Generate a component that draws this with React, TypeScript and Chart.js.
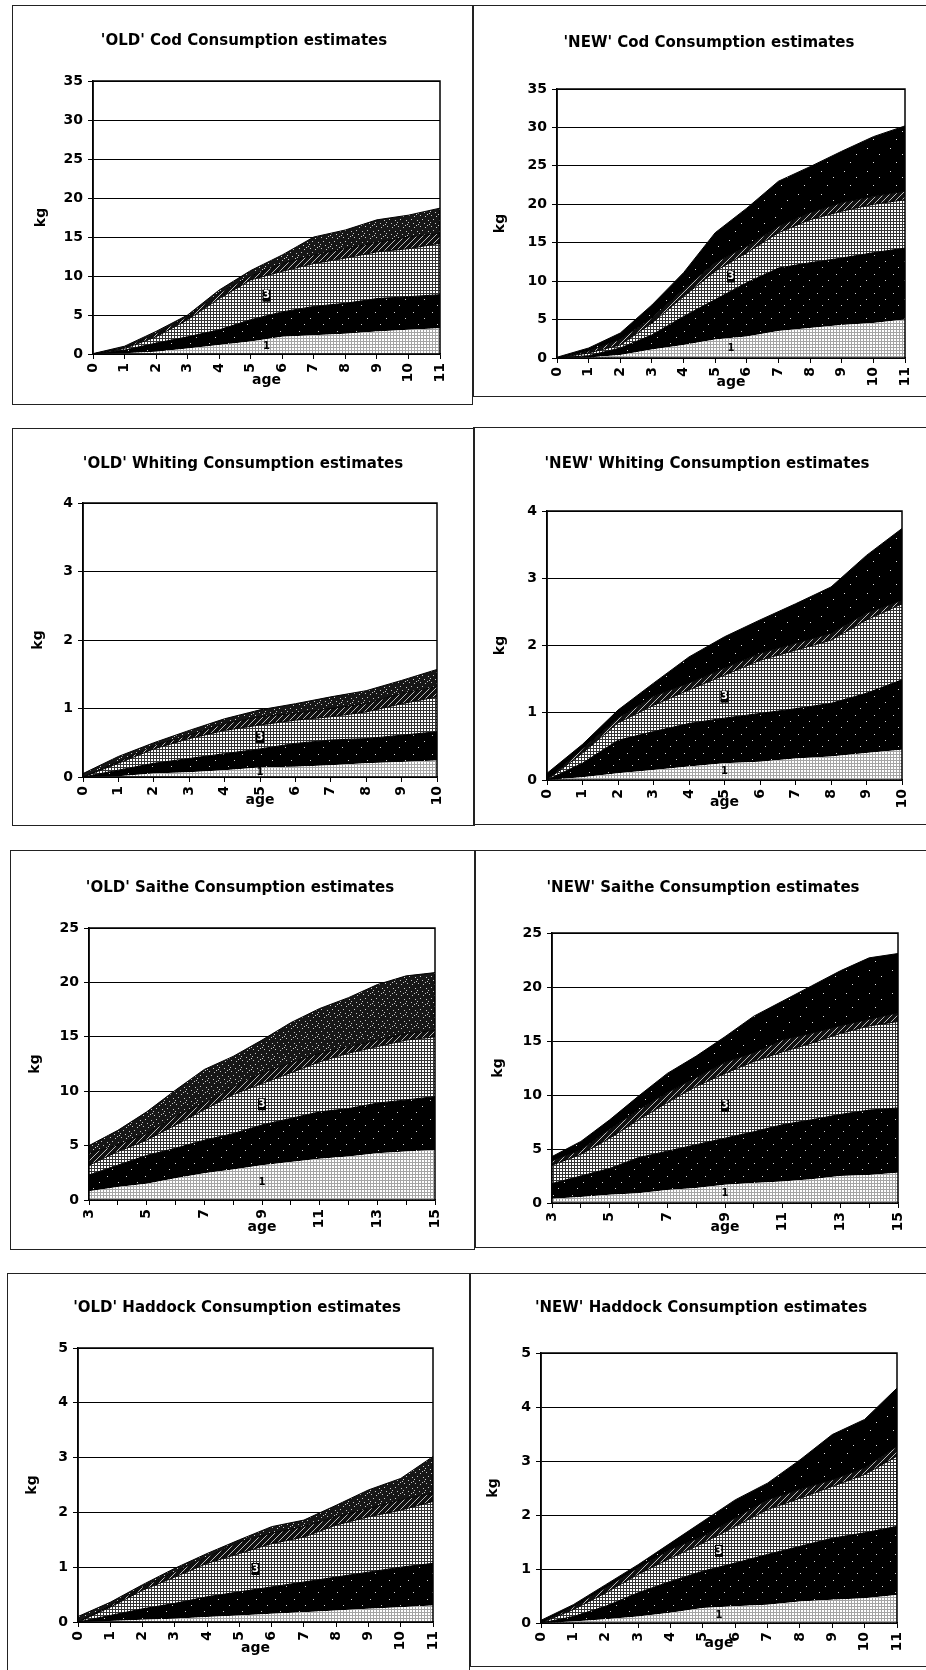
import React, { useEffect, useRef } from 'react';
import { Chart, registerables } from 'chart.js';

Chart.register(...registerables);

const FONT = "'DejaVu Sans', sans-serif";

// ---------- data (kg, cumulative boundaries of the five stacked prey layers) ----------
const codAges = [0, 1, 2, 3, 4, 5, 6, 7, 8, 9, 10, 11];
const whitingAges = [0, 1, 2, 3, 4, 5, 6, 7, 8, 9, 10];
const saitheAges = [3, 4, 5, 6, 7, 8, 9, 10, 11, 12, 13, 14, 15];
const haddockAges = [0, 1, 2, 3, 4, 5, 6, 7, 8, 9, 10, 11];

const oldCod = [
  [0, 0.1, 0.3, 0.7, 1.15, 1.6, 2.2, 2.4, 2.6, 2.9, 3.1, 3.3],
  [0, 0.5, 1.4, 2.2, 3.1, 4.4, 5.4, 6.1, 6.5, 7.1, 7.35, 7.6],
  [0, 0.7, 2.2, 4.4, 7.1, 9.5, 10.6, 11.6, 12.3, 13.1, 13.5, 14.2],
  [0, 0.85, 2.6, 4.8, 7.8, 10.0, 11.6, 12.7, 13.5, 14.3, 15.0, 15.5],
  [0.05, 1.0, 2.9, 5.0, 8.2, 10.7, 12.7, 15.0, 15.9, 17.2, 17.8, 18.7],
];
const newCod = [
  [0, 0.05, 0.4, 1.1, 1.7, 2.4, 2.8, 3.5, 3.9, 4.3, 4.55, 5.0],
  [0, 0.3, 1.3, 3.0, 5.4, 7.6, 9.8, 11.7, 12.4, 13.0, 13.7, 14.3],
  [0, 0.65, 1.7, 4.55, 8.0, 11.3, 13.7, 16.3, 18.0, 19.1, 20.0, 20.6],
  [0, 0.9, 2.4, 5.2, 8.9, 12.4, 14.5, 17.1, 18.9, 20.2, 21.0, 21.7],
  [0.1, 1.3, 3.25, 6.9, 11.1, 16.3, 19.5, 23.0, 24.9, 26.9, 28.8, 30.2],
];
const oldWhiting = [
  [0, 0.01, 0.05, 0.07, 0.1, 0.14, 0.15, 0.17, 0.2, 0.22, 0.24],
  [0, 0.1, 0.2, 0.27, 0.34, 0.41, 0.49, 0.54, 0.56, 0.61, 0.66],
  [0, 0.2, 0.41, 0.56, 0.68, 0.76, 0.83, 0.88, 0.95, 1.07, 1.17],
  [0, 0.22, 0.46, 0.61, 0.78, 0.88, 0.93, 1.0, 1.07, 1.22, 1.32],
  [0.05, 0.3, 0.5, 0.68, 0.85, 0.98, 1.07, 1.17, 1.26, 1.41, 1.57],
];
const newWhiting = [
  [0, 0.04, 0.1, 0.15, 0.2, 0.25, 0.27, 0.32, 0.35, 0.4, 0.45],
  [0, 0.25, 0.59, 0.72, 0.84, 0.92, 0.99, 1.06, 1.14, 1.29, 1.49],
  [0, 0.4, 0.85, 1.11, 1.34, 1.56, 1.78, 1.93, 2.08, 2.38, 2.62],
  [0, 0.46, 0.92, 1.24, 1.44, 1.66, 1.88, 2.03, 2.18, 2.48, 2.67],
  [0.1, 0.53, 1.04, 1.44, 1.83, 2.13, 2.38, 2.62, 2.87, 3.34, 3.74],
];
const oldSaithe = [
  [0.8, 1.2, 1.5, 2.0, 2.45, 2.8, 3.2, 3.5, 3.8, 4.0, 4.3, 4.45, 4.6],
  [2.3, 3.2, 4.1, 4.75, 5.5, 6.1, 6.9, 7.5, 8.1, 8.4, 8.9, 9.2, 9.5],
  [3.2, 4.45, 5.5, 6.9, 8.3, 9.7, 10.7, 11.7, 12.7, 13.5, 14.1, 14.7, 15.0],
  [4.3, 5.06, 6.1, 7.7, 8.9, 10.4, 11.7, 12.6, 13.5, 14.1, 14.7, 15.3, 15.6],
  [5.0, 6.4, 8.1, 10.1, 12.0, 13.2, 14.7, 16.3, 17.6, 18.6, 19.8, 20.6, 20.9],
];
const newSaithe = [
  [0.4, 0.55, 0.77, 0.9, 1.2, 1.4, 1.7, 1.85, 2.0, 2.2, 2.5, 2.6, 2.8],
  [1.8, 2.5, 3.2, 4.2, 4.8, 5.4, 6.0, 6.6, 7.25, 7.7, 8.2, 8.6, 8.8],
  [3.5, 4.5, 6.0, 7.7, 9.3, 10.8, 12.0, 13.1, 14.0, 14.8, 15.7, 16.4, 16.8],
  [3.9, 4.9, 6.8, 8.6, 10.2, 11.6, 13.0, 13.9, 15.1, 15.7, 16.4, 17.0, 17.6],
  [4.3, 5.7, 7.7, 9.9, 12.0, 13.6, 15.4, 17.3, 18.7, 20.1, 21.5, 22.7, 23.1],
];
const oldHaddock = [
  [0, 0.02, 0.04, 0.06, 0.09, 0.12, 0.15, 0.18, 0.21, 0.24, 0.27, 0.3],
  [0, 0.12, 0.24, 0.34, 0.46, 0.55, 0.64, 0.73, 0.82, 0.91, 1.0, 1.07],
  [0, 0.27, 0.58, 0.82, 1.07, 1.25, 1.43, 1.55, 1.77, 1.92, 2.04, 2.2],
  [0, 0.3, 0.64, 0.91, 1.19, 1.46, 1.62, 1.74, 1.92, 2.07, 2.23, 2.35],
  [0.1, 0.36, 0.68, 0.98, 1.25, 1.5, 1.74, 1.86, 2.13, 2.41, 2.62, 3.02],
];
const newHaddock = [
  [0, 0.03, 0.07, 0.12, 0.19, 0.28, 0.31, 0.34, 0.4, 0.43, 0.46, 0.52],
  [0, 0.12, 0.31, 0.56, 0.77, 0.96, 1.11, 1.27, 1.42, 1.57, 1.67, 1.79],
  [0, 0.25, 0.56, 0.9, 1.2, 1.48, 1.79, 2.1, 2.31, 2.53, 2.75, 3.09],
  [0, 0.3, 0.65, 1.02, 1.36, 1.6, 1.94, 2.28, 2.47, 2.65, 2.87, 3.27],
  [0.05, 0.34, 0.71, 1.08, 1.48, 1.88, 2.28, 2.59, 3.02, 3.49, 3.77, 4.35],
];

// ---------- layout ----------
type Panel = {
  title: string;
  ages: number[];
  layers: number[][];
  yMax: number;
  yStep: number;
  box: [number, number, number, number];
  plot: [number, number, number, number];
  titleCx: number;
  titleCy: number;
  kgGap: number;
  ageGap: number;
  oddOnly: boolean;
  isNew: boolean;
};

const panels: Panel[] = [
  { title: "'OLD' Cod Consumption estimates", ages: codAges, layers: oldCod, yMax: 35, yStep: 5,
    box: [12, 5, 461, 400], plot: [93, 81, 440, 354], titleCx: 244, titleCy: 40, kgGap: 52, ageGap: 26, oddOnly: false, isNew: false },
  { title: "'NEW' Cod Consumption estimates", ages: codAges, layers: newCod, yMax: 35, yStep: 5,
    box: [473, 5, 470, 392], plot: [557, 89, 905, 358], titleCx: 709, titleCy: 42, kgGap: 57, ageGap: 24, oddOnly: false, isNew: true },
  { title: "'OLD' Whiting Consumption estimates", ages: whitingAges, layers: oldWhiting, yMax: 4, yStep: 1,
    box: [12, 428, 463, 398], plot: [83, 503, 437, 777], titleCx: 243, titleCy: 463, kgGap: 45, ageGap: 23, oddOnly: false, isNew: false },
  { title: "'NEW' Whiting Consumption estimates", ages: whitingAges, layers: newWhiting, yMax: 4, yStep: 1,
    box: [473, 427, 470, 398], plot: [547, 511, 902, 780], titleCx: 707, titleCy: 463, kgGap: 47, ageGap: 22, oddOnly: false, isNew: true },
  { title: "'OLD' Saithe Consumption estimates", ages: saitheAges, layers: oldSaithe, yMax: 25, yStep: 5,
    box: [10, 850, 465, 400], plot: [89, 928, 435, 1200], titleCx: 240, titleCy: 887, kgGap: 54, ageGap: 27, oddOnly: true, isNew: false },
  { title: "'NEW' Saithe Consumption estimates", ages: saitheAges, layers: newSaithe, yMax: 25, yStep: 5,
    box: [475, 850, 468, 398], plot: [552, 933, 898, 1203], titleCx: 703, titleCy: 887, kgGap: 54, ageGap: 24, oddOnly: true, isNew: true },
  { title: "'OLD' Haddock Consumption estimates", ages: haddockAges, layers: oldHaddock, yMax: 5, yStep: 1,
    box: [7, 1273, 463, 410], plot: [78, 1348, 433, 1622], titleCx: 237, titleCy: 1307, kgGap: 46, ageGap: 26, oddOnly: false, isNew: false },
  { title: "'NEW' Haddock Consumption estimates", ages: haddockAges, layers: newHaddock, yMax: 5, yStep: 1,
    box: [470, 1273, 473, 394], plot: [541, 1353, 897, 1623], titleCx: 701, titleCy: 1307, kgGap: 48, ageGap: 20, oddOnly: false, isNew: true },
];

// ---------- fill textures ----------
function tile(ctx: CanvasRenderingContext2D, size: number, bg: string, fg: string, pts: number[][]) {
  const c = document.createElement('canvas');
  c.width = size;
  c.height = size;
  const t = c.getContext('2d')!;
  t.fillStyle = bg;
  t.fillRect(0, 0, size, size);
  t.fillStyle = fg;
  pts.forEach(([x, y]) => t.fillRect(x, y, 1, 1));
  return ctx.createPattern(c, 'repeat')!;
}

function makePatterns(ctx: CanvasRenderingContext2D, isNew: boolean) {
  const grid3 = [[0, 0], [1, 0], [2, 0], [0, 1], [0, 2]];
  const light = tile(ctx, 3, '#ffffff', '#a4a4a4', grid3);
  const dark = tile(ctx, 19, '#000000', '#d0d0d0', [[2, 3], [13, 9], [7, 15]]);
  const check = tile(ctx, 3, '#ffffff', '#333333', grid3);
  const hatch = tile(ctx, 6, '#101010', '#bbbbbb', [[0, 5], [1, 4], [2, 3], [3, 2], [4, 1], [5, 0]]);
  const top = isNew
    ? tile(ctx, 23, '#000000', '#e0e0e0', [[3, 5], [15, 11], [9, 19]])
    : tile(ctx, 11, '#161616', '#c8c8c8', [[1, 1], [6, 2], [3, 5], [9, 6], [0, 8], [5, 9], [8, 0], [10, 10]]);
  return [light, dark, check, hatch, top];
}

function interp(arr: number[], f: number) {
  const i = Math.floor(f);
  const j = Math.min(arr.length - 1, i + 1);
  const w = f - i;
  return arr[i] * (1 - w) + arr[j] * w;
}

const framePlugin = {
  id: 'frame',
  afterDatasetsDraw(chart: any) {
    const { ctx, chartArea } = chart;
    ctx.save();
    ctx.strokeStyle = '#000';
    ctx.lineWidth = 1.5;
    ctx.strokeRect(chartArea.left, chartArea.top, chartArea.right - chartArea.left, chartArea.bottom - chartArea.top);
    ctx.restore();
  },
};

const layerLabelPlugin = {
  id: 'layerLabels',
  afterDatasetsDraw(chart: any) {
    const { ctx, chartArea, scales } = chart;
    const ds = chart.data.datasets;
    const n = ds[0].data.length;
    const f = (n - 1) / 2;
    const x = (chartArea.left + chartArea.right) / 2;
    const y = scales.y;
    ctx.save();
    ctx.font = `bold 10px ${FONT}`;
    ctx.textAlign = 'center';
    ctx.textBaseline = 'middle';
    // label of layer 3
    const y3 = y.getPixelForValue((interp(ds[1].data, f) + interp(ds[2].data, f)) / 2);
    ctx.fillStyle = '#000';
    ctx.fillRect(x - 4, y3 - 6, 8, 12);
    ctx.fillStyle = '#fff';
    ctx.fillText('3', x, y3);
    // label of layer 1
    const y1a = y.getPixelForValue(interp(ds[0].data, f));
    const y1b = y.getPixelForValue(0);
    if (y1b - y1a > 8) {
      ctx.fillStyle = '#000';
      ctx.fillText('1', x, (y1a + y1b) / 2);
    }
    ctx.restore();
  },
};

function ChartPanel({ p }: { p: Panel }) {
  const ref = useRef<HTMLCanvasElement>(null);
  const [bx, by, bw, bh] = p.box;
  useEffect(() => {
    const canvas = ref.current!;
    const ctx = canvas.getContext('2d')!;
    const pats = makePatterns(ctx, p.isNew);
    const [l, t, r, b] = p.plot;
    const Wy = p.kgGap + 8.4;
    const Hx = p.ageGap + 8.4;
    const tickFont = { family: FONT, size: 14, weight: 'bold' as const };
    const titleFont = { family: FONT, size: 14, weight: 'bold' as const };
    const chart = new Chart(canvas, {
      type: 'line',
      data: {
        labels: p.ages.map(String),
        datasets: p.layers.map((arr, i) => ({
          data: arr,
          fill: i === 0 ? 'origin' : '-1',
          backgroundColor: pats[i] as any,
          borderColor: '#000',
          borderWidth: i === 0 ? 0 : 1,
          pointRadius: 0,
          tension: 0,
        })),
      },
      options: {
        responsive: false,
        animation: false,
        devicePixelRatio: 1,
        events: [],
        layout: {
          padding: { left: l - bx - Wy, top: t - by, right: bx + bw - r, bottom: by + bh - b - Hx },
        },
        plugins: {
          legend: { display: false },
          tooltip: { enabled: false },
          title: { display: false },
        },
        scales: {
          x: {
            type: 'category',
            offset: false,
            grid: { drawOnChartArea: false, color: '#000', tickLength: 5 },
            border: { color: '#000', width: 1.5 },
            ticks: {
              autoSkip: false,
              minRotation: 90,
              maxRotation: 90,
              padding: 4,
              color: '#000',
              font: tickFont,
              callback: (_v: any, i: number) => {
                const a = p.ages[i];
                return p.oddOnly && a % 2 === 0 ? '' : String(a);
              },
            },
            title: { display: true, text: 'age', color: '#000', font: titleFont, padding: 0 },
            afterFit: (s: any) => {
              s.height = Hx;
            },
          },
          y: {
            min: 0,
            max: p.yMax,
            grid: { color: '#000', lineWidth: 1, tickLength: 5 },
            border: { color: '#000', width: 1.5 },
            ticks: { stepSize: p.yStep, padding: 5, color: '#000', font: tickFont },
            title: { display: true, text: 'kg', color: '#000', font: titleFont, padding: 0 },
            afterFit: (s: any) => {
              s.width = Wy;
            },
          },
        },
      },
      plugins: [framePlugin, layerLabelPlugin],
    });
    return () => chart.destroy();
  }, []);
  return (
    <>
      <canvas
        ref={ref}
        width={bw}
        height={bh}
        style={{ position: 'absolute', left: bx, top: by, width: bw, height: bh }}
      />
      <div
        style={{
          position: 'absolute', left: bx, top: by, width: bw, height: bh,
          border: '1px solid #222', boxSizing: 'border-box', pointerEvents: 'none',
        }}
      />
      <div
        style={{
          position: 'absolute', left: p.titleCx - 220, top: p.titleCy - 9, width: 440, height: 18,
          lineHeight: '18px', textAlign: 'center', fontFamily: FONT, fontWeight: 'bold', fontSize: 15,
          color: '#000', whiteSpace: 'nowrap',
        }}
      >
        {p.title}
      </div>
    </>
  );
}

export default function App() {
  return (
    <div
      style={{
        position: 'absolute', left: 0, top: 0, width: 926, height: 1670,
        overflow: 'hidden', background: '#fff',
      }}
    >
      {panels.map((p, i) => (
        <ChartPanel key={i} p={p} />
      ))}
    </div>
  );
}
